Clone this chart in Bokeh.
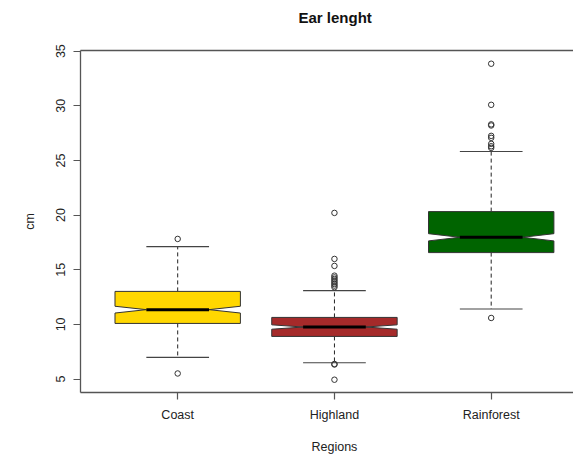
from bokeh.plotting import figure
from bokeh.models import Range1d, LinearAxis, FixedTicker, Title
from bokeh.embed import file_html
from bokeh.resources import INLINE

# ---- data ----
categories = ["Coast", "Highland", "Rainforest"]
colors = ["#FFD700", "#A52A2A", "#006400"]
lower_whisker = [6.98, 6.49, 11.41]
q1 = [10.09, 8.90, 16.57]
median = [11.35, 9.76, 17.97]
q3 = [13.02, 10.64, 20.32]
upper_whisker = [17.12, 13.09, 25.82]
notch_lo = [11.04, 9.56, 17.64]
notch_hi = [11.66, 9.96, 18.30]
coast_outliers = [17.82, 5.51]
highland_outliers = [20.2, 15.99, 15.35, 14.46, 14.3, 14.15, 14.0, 13.85, 13.7,
                     13.55, 13.4, 6.38, 6.33, 4.94]
rainforest_outliers = [33.85, 30.09, 28.3, 28.2, 27.25, 27.07, 26.52, 26.3, 26.15, 10.59]
y_ticks = [5, 10, 15, 20, 25, 30, 35]
title_text = "Ear lenght"
x_label = "Regions"
y_label = "cm"

positions = [i + 1 for i in range(len(categories))]
half_box = 0.4
half_notch = 0.2

FONT = "Liberation Sans"
AX = "#555555"
TXT = "#222222"

p = figure(width=573, height=461, output_backend="svg", toolbar_location=None,
           x_range=Range1d(0.38, 3.525), y_range=Range1d(3.77, 35.06),
           min_border_left=80, min_border_right=0, min_border_top=50,
           min_border_bottom=69)
p.outline_line_color = None
p.xgrid.visible = False
p.ygrid.visible = False
p.background_fill_color = "white"
p.border_fill_color = "white"

# whiskers (dashed)
p.segment(x0=positions, y0=q3, x1=positions, y1=upper_whisker,
          line_color="#222222", line_width=1, line_dash="4 3")
p.segment(x0=positions, y0=q1, x1=positions, y1=lower_whisker,
          line_color="#222222", line_width=1, line_dash="4 3")
# caps
p.segment(x0=[x - half_notch for x in positions], y0=upper_whisker,
          x1=[x + half_notch for x in positions], y1=upper_whisker,
          line_color="#444444", line_width=1.2)
p.segment(x0=[x - half_notch for x in positions], y0=lower_whisker,
          x1=[x + half_notch for x in positions], y1=lower_whisker,
          line_color="#444444", line_width=1.2)

# notched boxes
xs, ys = [], []
for x, a, lo, m, hi, b in zip(positions, q1, notch_lo, median, notch_hi, q3):
    xs.append([x - half_box, x + half_box, x + half_box, x + half_notch,
               x + half_box, x + half_box, x - half_box, x - half_box,
               x - half_notch, x - half_box])
    ys.append([a, a, lo, m, hi, b, b, hi, m, lo])
p.patches(xs, ys, fill_color=colors, line_color="#333333", line_width=1)

# medians
p.segment(x0=[x - half_notch for x in positions], y0=median,
          x1=[x + half_notch for x in positions], y1=median,
          line_color="black", line_width=3)

# outliers
ox, oy = [], []
for x, outs in zip(positions, [coast_outliers, highland_outliers, rainforest_outliers]):
    ox += [x] * len(outs)
    oy += outs
p.scatter(ox, oy, marker="circle", size=5.5, fill_color=None,
          line_color="#333333", line_width=1)

# axes
xa = p.xaxis[0]
xa.ticker = FixedTicker(ticks=positions)
xa.major_label_overrides = {x: c for x, c in zip(positions, categories)}
ya = p.yaxis[0]
ya.ticker = FixedTicker(ticks=y_ticks)
ya.major_label_orientation = "vertical"
ya.axis_label = y_label
ya.axis_label_standoff = 17
ya.axis_label_text_font_style = "normal"
ya.axis_label_text_font = FONT
ya.axis_label_text_font_size = "12.5px"
ya.axis_label_text_color = TXT
for ax in (xa, ya):
    ax.axis_line_color = AX
    ax.axis_line_width = 1.3
    ax.major_tick_line_color = AX
    ax.major_tick_line_width = 1.2
    ax.major_tick_in = 0
    ax.major_tick_out = 7
    ax.minor_tick_line_color = None
    ax.major_label_text_font = FONT
    ax.major_label_text_font_size = "12.5px"
    ax.major_label_text_color = TXT
    ax.major_label_standoff = 8

top = LinearAxis(ticker=FixedTicker(ticks=[]), axis_line_color=AX, axis_line_width=1.3,
                 major_tick_line_color=None, minor_tick_line_color=None,
                 major_tick_in=0, major_tick_out=0,
                 major_label_standoff=0, axis_label_standoff=0,
                 major_label_text_font_size="0px")
p.add_layout(top, "above")
# spacer panel between the top border and the title
p.add_layout(Title(text=" ", text_font_size="1px", standoff=22), "above")

# title (centred over the middle group, as the frame extends past the window)
p.title.text = title_text
p.title.align = "left"
p.title.offset = 218
p.title.standoff = 0
p.title.vertical_align = "bottom"
p.title.text_font = FONT
p.title.text_font_size = "15px"
p.title.text_font_style = "bold"
p.title.text_color = "#111111"

# spacer panel between the x axis and its label
p.add_layout(Title(text=" ", text_font_size="1px", standoff=10), "below")
xt = Title(text=x_label, align="left", offset=231, standoff=0,
           text_font=FONT, text_font_size="12.5px", text_font_style="normal",
           text_color=TXT)
p.add_layout(xt, "below")

open("out.html", "w").write(file_html(p, INLINE))
